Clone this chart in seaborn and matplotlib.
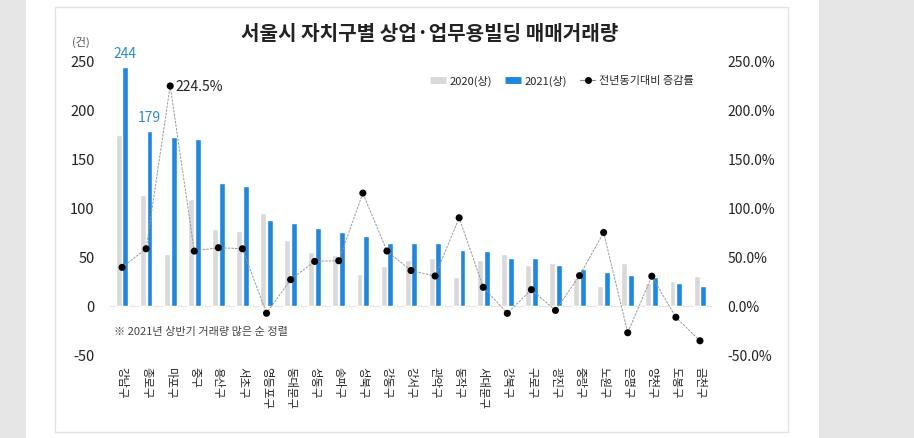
import matplotlib.pyplot as plt
import seaborn as sns
import pandas as pd
from matplotlib.lines import Line2D
from matplotlib.patches import Rectangle
from matplotlib.ticker import FuncFormatter

districts = ['강남구', '종로구', '마포구', '중구', '용산구', '서초구', '영등포구', '동대문구',
             '성동구', '송파구', '성북구', '강동구', '강서구', '관악구', '동작구', '서대문구',
             '강북구', '구로구', '광진구', '중랑구', '노원구', '은평구', '양천구', '도봉구', '금천구']
vol_2020 = [175, 113, 53, 109, 79, 77, 95, 67, 55, 52, 33, 41, 47, 49, 30, 47,
            53, 42, 44, 29, 20, 44, 23, 26, 31]
vol_2021 = [244, 179, 172, 170, 126, 122, 88, 85, 80, 76, 71, 64, 64, 64, 57, 56,
            49, 49, 42, 38, 35, 32, 30, 23, 20]
pct_change = [39.4, 58.4, 224.5, 56.0, 59.5, 58.4, -7.4, 26.9, 45.5, 46.2, 115.2, 56.1,
              36.2, 30.6, 90.0, 19.1, -7.5, 16.7, -4.5, 31.0, 75.0, -27.3, 30.4, -11.5, -35.5]
series = ['2020(상)', '2021(상)']

GRAY = '#d9d9d9'
BLUE = '#1f87e0'

sns.set_theme(style='white')
plt.rcParams['font.family'] = ['Noto Sans CJK KR', 'DejaVu Sans']
plt.rcParams['axes.unicode_minus'] = False

W, H = 914, 439
fig = plt.figure(figsize=(W / 100, H / 100), dpi=100, facecolor='#e6e6e6')

def fx(px):
    return px / W

def fy(py):
    return 1 - py / H

# white page + thin box, kept behind the axes
fig.patches.append(Rectangle((fx(26), 0), fx(819 - 26), 1, transform=fig.transFigure,
                             facecolor='white', edgecolor='none', zorder=-2))
fig.patches.append(Rectangle((fx(55), fy(433)), fx(788 - 55), (433 - 8) / H,
                             transform=fig.transFigure, facecolor='none',
                             edgecolor='#e3e3e3', lw=1, zorder=-1))

ax = fig.add_axes([fx(110), fy(356), fx(712 - 110), (356 - 62) / H])
ax.set_facecolor('none')

df = pd.DataFrame({
    'district': districts * 2,
    'count': vol_2020 + vol_2021,
    'year': [series[0]] * len(districts) + [series[1]] * len(districts),
})
sns.barplot(data=df, x='district', y='count', hue='year', order=districts,
            hue_order=series, palette=[GRAY, BLUE], saturation=1,
            width=0.56, gap=0.12, legend=False, ax=ax)

ax.axhline(0, color='#e6e6e6', lw=0.9, zorder=0)
ax.set_ylim(-50, 250)
ax.set_yticks(range(-50, 251, 50))
ax.set_xlim(-0.5, len(districts) - 0.5)
ax.set_xlabel('')
ax.set_ylabel('')
for s in ax.spines.values():
    s.set_visible(False)
ax.tick_params(axis='y', length=0, pad=11, labelsize=10.5, labelcolor='#222222')
ax.tick_params(axis='x', length=0, pad=8, labelsize=8.2, labelcolor='#222222')
for lab in ax.get_xticklabels():
    lab.set_rotation(270)
    lab.set_ha('center')
    lab.set_va('top')

# rate line on the right axis
ax2 = ax.twinx()
xs = list(range(len(districts)))
sns.lineplot(x=xs, y=pct_change, ax=ax2, color='#999999', lw=0.7,
             linestyle=(0, (2.5, 1.2)), legend=False)
sns.scatterplot(x=xs, y=pct_change, ax=ax2, color='black', s=26,
                edgecolor='none', legend=False, zorder=3)
ax2.set_ylim(-50, 250)
ax2.set_yticks(range(-50, 251, 50))
ax2.set_xlim(-0.5, len(districts) - 0.5)
ax2.yaxis.set_major_formatter(FuncFormatter(lambda v, _: f'{v:.1f}%'))
ax2.set_ylabel('')
for s in ax2.spines.values():
    s.set_visible(False)
ax2.tick_params(axis='y', length=0, pad=11, labelsize=10, labelcolor='#222222')
ax2.grid(False)
ax.grid(False)

# value labels
for i in [0, 1]:
    ax.annotate(str(vol_2021[i]), (i + 0.14, vol_2021[i]), xytext=(0, 10),
                textcoords='offset points', ha='center', va='center',
                fontsize=10, color='#2b8bd3')
ax2.annotate(f'{pct_change[2]}%', (2, pct_change[2]), xytext=(4, 0),
             textcoords='offset points', ha='left', va='center',
             fontsize=10, color='#222222')

# texts
fig.text(fx(430), fy(33), '서울시 자치구별 상업·업무용빌딩 매매거래량', ha='center', va='center',
         fontsize=14.5, fontweight='bold', color='#222222')
fig.text(fx(81), fy(42), '(건)', ha='center', va='center', fontsize=8, color='#555555')
fig.text(fx(114), fy(332), '※ 2021년 상반기 거래량 많은 순 정렬', ha='left', va='center',
         fontsize=8, color='#444444')

handles = [
    Line2D([], [], color=GRAY, lw=5, solid_capstyle='butt'),
    Line2D([], [], color=BLUE, lw=5, solid_capstyle='butt'),
    Line2D([], [], color='#8a8a8a', lw=0.8, marker='o', markersize=4,
           markerfacecolor='black', markeredgecolor='black'),
]
fig.legend(handles, series + ['전년동기대비 증감률'], loc='center',
           bbox_to_anchor=(fx(562), fy(81)), ncol=3, frameon=False,
           fontsize=8, handlelength=1.4, handletextpad=0.3, columnspacing=1.2)

fig.savefig('out.png', dpi=100, facecolor=fig.get_facecolor())
